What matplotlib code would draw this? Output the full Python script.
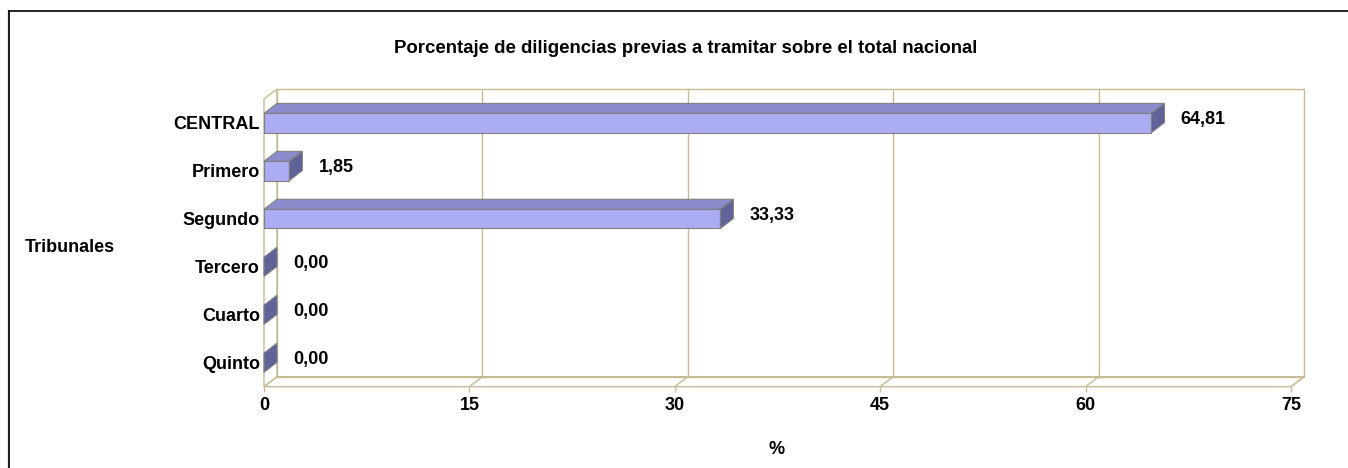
import numpy as np
import matplotlib
matplotlib.use('Agg')
import matplotlib.pyplot as plt
from matplotlib.patches import Polygon, Rectangle
from matplotlib.lines import Line2D

# Data
tribunales = ['CENTRAL', 'Primero', 'Segundo', 'Tercero', 'Cuarto', 'Quinto']
porcentaje = [64.81, 1.85, 33.33, 0.00, 0.00, 0.00]
etiquetas = ['64,81', '1,85', '33,33', '0,00', '0,00', '0,00']
x_ticks = [0, 15, 30, 45, 60, 75]

plt.rcParams['font.family'] = ['Liberation Sans', 'DejaVu Sans']
plt.rcParams['font.weight'] = 'bold'
fs = 13

W, H = 1348, 468
fig = plt.figure(figsize=(W / 100, H / 100), dpi=100)

# front face of the plot box in pixels
left_px, right_px, top_px, bot_px = 264, 1291, 99, 386.7
ax = fig.add_axes([left_px / W, 1 - bot_px / H, (right_px - left_px) / W, (bot_px - top_px) / H])
n = len(tribunales)
ax.set_xlim(0, 75)
ax.set_ylim(n - 0.5, -0.5)
for s in ax.spines.values():
    s.set_visible(False)

grid_c = '#C4BC96'
# depth offset (13 px right, 10 px up) in data units
DX = 13 / ((right_px - left_px) / 75)
DY = 10 / ((bot_px - top_px) / n)
y_top, y_bot = -0.5, n - 0.5

# back wall
ax.add_patch(Rectangle((DX, y_top - DY), 75, n, fill=False, ec=grid_c, lw=1, clip_on=False))
for xv in x_ticks[1:-1]:
    ax.plot([xv + DX, xv + DX], [y_top - DY, y_bot - DY], color=grid_c, lw=1, clip_on=False)
# left wall
ax.add_patch(Polygon([(0, y_top), (DX, y_top - DY), (DX, y_bot - DY), (0, y_bot)],
                     closed=True, fill=False, ec=grid_c, lw=1, clip_on=False))
# floor
ax.add_patch(Polygon([(0, y_bot), (75, y_bot), (75 + DX, y_bot - DY), (DX, y_bot - DY)],
                     closed=True, fill=False, ec=grid_c, lw=1, clip_on=False))
for xv in x_ticks[1:]:
    ax.plot([xv, xv + DX], [y_bot, y_bot - DY], color=grid_c, lw=1, clip_on=False)

# bars
h = 0.4
front_c, top_c, side_c, edge_c = '#ACACF2', '#8C8CCC', '#62629A', '#808080'
for i, v in enumerate(porcentaje):
    y0, y1 = i - h / 2, i + h / 2
    if v > 0:
        ax.add_patch(Rectangle((0, y0), v, h, fc=front_c, ec=edge_c, lw=0.8, clip_on=False, zorder=3))
        ax.add_patch(Polygon([(0, y0), (v, y0), (v + DX, y0 - DY), (DX, y0 - DY)], closed=True,
                             fc=top_c, ec=edge_c, lw=0.8, clip_on=False, zorder=3))
    ax.add_patch(Polygon([(v, y0), (v + DX, y0 - DY), (v + DX, y1 - DY), (v, y1)], closed=True,
                         fc=side_c, ec=edge_c, lw=0.8, clip_on=False, zorder=3))
    ax.annotate(etiquetas[i], xy=(v, i), xytext=(21, -1), textcoords='offset points',
                ha='left', va='baseline', fontsize=fs, fontweight='bold', annotation_clip=False)

ax.set_xticks(x_ticks)
ax.set_xticklabels([str(t) for t in x_ticks])
ax.set_yticks(range(n))
ax.set_yticklabels(tribunales)
ax.tick_params(axis='x', length=3.6, color=grid_c, width=1, pad=4, labelsize=fs)
ax.tick_params(axis='y', length=0, pad=2.9, labelsize=fs)
for lab in ax.get_xticklabels() + ax.get_yticklabels():
    lab.set_fontweight('bold')

# titles
fig.text(686 / W, 1 - 53.3 / H, 'Porcentaje de diligencias previas a tramitar sobre el total nacional',
         ha='center', va='baseline', fontsize=13.4, fontweight='bold')
fig.text(25 / W, 1 - 251.7 / H, 'Tribunales', ha='left', va='baseline', fontsize=fs, fontweight='bold')
fig.text(777 / W, 1 - 454.3 / H, '%', ha='center', va='baseline', fontsize=fs, fontweight='bold')

# chart area border (only left/top fall inside the image)
fig.add_artist(Line2D([8 / W, 8 / W], [0, 1 - 11 / H], color='#999999', lw=1, transform=fig.transFigure))
fig.add_artist(Line2D([9.2 / W, 9.2 / W], [0, 1 - 11 / H], color='black', lw=1.2, transform=fig.transFigure))
fig.add_artist(Line2D([9 / W, 1], [1 - 11 / H, 1 - 11 / H], color='black', lw=1.2, transform=fig.transFigure))

fig.savefig('out.png', dpi=100)
